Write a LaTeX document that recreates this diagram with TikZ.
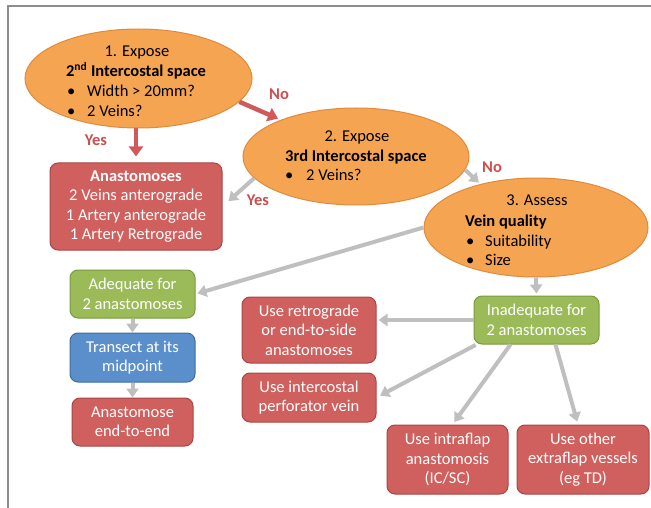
\documentclass[tikz,border=0pt]{standalone}
\usepackage{fontspec}
\setmainfont{Carlito}
\usetikzlibrary{shapes.geometric,arrows.meta,calc}
\definecolor{orF}{HTML}{F5A552}
\definecolor{orD}{HTML}{E08A3C}
\definecolor{rdF}{HTML}{D0605E}
\definecolor{rdD}{HTML}{A84644}
\definecolor{gnF}{HTML}{9BBB59}
\definecolor{gnD}{HTML}{7A9A3E}
\definecolor{blF}{HTML}{5B8FCB}
\definecolor{blD}{HTML}{3F6E9E}
\definecolor{arrG}{HTML}{BFBFBF}
\definecolor{arrR}{HTML}{D05A5A}
\definecolor{lblR}{HTML}{C9504E}
\definecolor{frameG}{HTML}{8C8C8C}
\tikzset{
  txt/.style={font=\fontsize{16.5}{19.5}\selectfont, inner sep=0pt},
  ell/.style={ellipse, draw=orD, fill=orF, line width=1pt, inner sep=0pt},
  box/.style={rounded corners=8pt, draw, line width=1pt, text=white, align=center,
              inner sep=0pt, font=\fontsize{16.5}{19.5}\selectfont},
  redbox/.style={box, draw=rdD, fill=rdF},
  greenbox/.style={box, draw=gnD, fill=gnF},
  bluebox/.style={box, draw=blD, fill=blF},
  redarrow/.style={draw=arrR, line width=4.5pt, -{Triangle[width=14pt,length=10pt]}},
  grayarrow/.style={draw=arrG, line width=4pt, -{Triangle[width=12pt,length=9pt]}},
  lbl/.style={text=lblR, font=\fontsize{16.5}{19.5}\selectfont\bfseries, inner sep=0pt},
}
\begin{document}
\begin{tikzpicture}[x=1pt,y=-1pt]
\useasboundingbox (0,0) rectangle (651,508);
% frame
\draw[frameG, line width=1.5pt] (8,508) -- (8,6) -- (651,6);

% ellipses
\node[ell, minimum width=227pt, minimum height=99pt] (e1) at (138.5,78.5) {};
\node[ell, minimum width=226pt, minimum height=97pt] (e2) at (356,156.5) {};
\node[ell, minimum width=224pt, minimum height=99pt] (e3) at (536,227.5) {};

% ellipse 1 text
\node[txt, anchor=base] (e1a) at (137,57) {1. Expose};
\node[txt, anchor=base] (e1b) at (136,77) {\textbf{2\textsuperscript{nd} Intercostal space}};
\node[txt, anchor=base west] (e1c) at (67,97) {\makebox[20pt][l]{\textbullet}Width > 20mm?};
\node[txt, anchor=base west] (e1d) at (67,117) {\makebox[20pt][l]{\textbullet}2 Veins?};

% ellipse 2 text
\node[txt, anchor=base] (e2a) at (357,142) {2. Expose};
\node[txt, anchor=base] (e2b) at (356,162) {\textbf{3rd Intercostal space}};
\node[txt, anchor=base west] (e2c) at (285,181) {\makebox[21pt][l]{\textbullet}2 Veins?};

% ellipse 3 text
\node[txt, anchor=base] (e3a) at (537,206) {3. Assess};
\node[txt, anchor=base west] (e3b) at (465,226) {\textbf{Vein quality}};
\node[txt, anchor=base west] (e3c) at (466,246) {\makebox[19pt][l]{\textbullet}Suitability};
\node[txt, anchor=base west] (e3d) at (466,265) {\makebox[19pt][l]{\textbullet}Size};

% boxes
\node[redbox, minimum width=172pt, minimum height=87pt] (ana) at (136,206.5)
  {\textbf{Anastomoses}\\2 Veins anterograde\\1 Artery anterograde\\1 Artery Retrograde};
\node[greenbox, minimum width=125pt, minimum height=48pt] (adq) at (132.5,294)
  {Adequate for\\2 anastomoses};
\node[bluebox, minimum width=125pt, minimum height=49pt] (tra) at (132.5,357.5)
  {Transect at its\\midpoint};
\node[redbox, minimum width=121pt, minimum height=48pt] (aee) at (132.5,422)
  {Anastomose\\end-to-end};
\node[redbox, minimum width=134pt, minimum height=66pt] (ret) at (309,330)
  {Use retrograde\\or end-to-side\\anastomoses};
\node[redbox, minimum width=134pt, minimum height=49pt] (ic) at (309,397.5)
  {Use intercostal\\perforator vein};
\node[greenbox, minimum width=125pt, minimum height=48pt] (inad) at (536.5,320)
  {Inadequate for\\2 anastomoses};
\node[redbox, minimum width=121pt, minimum height=69pt] (intra) at (447.5,459.5)
  {Use intraflap\\anastomosis\\(IC/SC)};
\node[redbox, minimum width=132pt, minimum height=69pt] (oth) at (583,459.5)
  {Use other\\extraflap vessels\\(eg TD)};

% arrows
\draw[redarrow, shorten >=6pt] (ana.north |- e1.south) -- (ana.north);
\draw[redarrow, shorten >=3pt] (e1.-13) -- (e2.154);
\draw[grayarrow, shorten >=8pt] (e2.-168) -- (ana.east);
\draw[grayarrow, shorten >=2pt] (e2.-7) -- (e3.142);
\draw[grayarrow, shorten >=2pt] (e3.west) -- (adq.east);
\draw[grayarrow, shorten >=2pt] (e3.south) -- (inad.north);
\draw[grayarrow] (adq.south) -- (tra.north);
\draw[grayarrow] (tra.south) -- (aee.north);
\draw[grayarrow, shorten >=2pt] (inad.west) -- (inad.west -| ret.east);
\draw[grayarrow, shorten <=1pt, shorten >=4pt] ([xshift=3pt]inad.south west) -- (ic.east);
\draw[grayarrow, shorten >=3pt] ([xshift=-26pt]inad.south) -- ([xshift=5pt]intra.north);
\draw[grayarrow, shorten >=3pt] ([xshift=19pt]inad.south) -- ([xshift=-5pt]oth.north);

% labels
\node[lbl] (yes1) at (96,140) {Yes};
\node[lbl] (no1) at (279,94) {No};
\node[lbl] (yes2) at (258,200) {Yes};
\node[lbl] (no2) at (492,167) {No};
\end{tikzpicture}
\end{document}
